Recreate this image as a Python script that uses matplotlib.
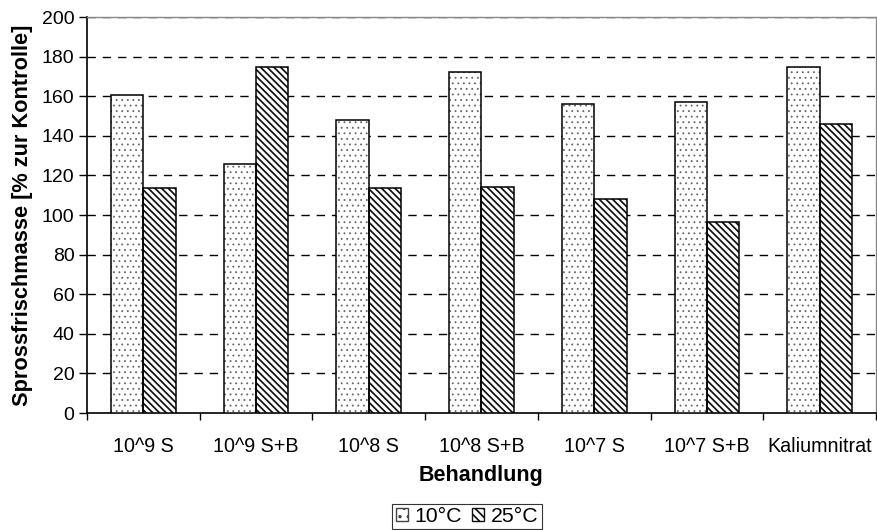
import matplotlib
matplotlib.use("Agg")
import matplotlib.pyplot as plt
import numpy as np

plt.rcParams['font.family'] = ['Liberation Sans', 'DejaVu Sans']

categories = ["10^9 S", "10^9 S+B", "10^8 S", "10^8 S+B", "10^7 S", "10^7 S+B", "Kaliumnitrat"]
series_names = ["10°C", "25°C"]
values_10 = [160.5, 125.6, 147.8, 172.2, 156.0, 157.2, 175.0]
values_25 = [113.6, 174.6, 113.6, 114.0, 108.0, 96.7, 145.8]
yticks = [0, 20, 40, 60, 80, 100, 120, 140, 160, 180, 200]

fig = plt.figure(figsize=(8.78, 5.30), dpi=100)
ax = fig.add_axes([87/878, 117/530, 789/878, 396/530])

x = np.arange(len(categories))
w = 0.287

# 10°C: sparse grey dots
plt.rcParams['hatch.linewidth'] = 0.6
ax.bar(x - w/2, values_10, w, facecolor='white', edgecolor='#666666', hatch='...', linewidth=0, zorder=3)
b1 = ax.bar(x - w/2, values_10, w, facecolor='none', edgecolor='black', linewidth=1.1, zorder=4, label=series_names[0])

# 25°C: dense diagonal stripes
plt.rcParams['hatch.linewidth'] = 1.25
ax.bar(x + w/2, values_25, w, facecolor='white', edgecolor='#111111', hatch='\\\\\\\\\\', linewidth=0, zorder=3)
b2 = ax.bar(x + w/2, values_25, w, facecolor='none', edgecolor='black', linewidth=1.1, zorder=4, label=series_names[1])

ax.set_xlim(-0.5, len(categories) - 0.5)
ax.set_ylim(0, 200)
ax.set_yticks(yticks)
ax.set_yticklabels([str(t) for t in yticks], fontsize=14)
ax.set_xticks(x)
ax.set_xticklabels(categories, fontsize=14.2)
ax.tick_params(axis='x', which='major', length=0, pad=17)
ax.set_xticks(np.arange(len(categories) + 1) - 0.5, minor=True)
ax.tick_params(axis='x', which='minor', length=5, width=1, direction='out')
ax.tick_params(axis='y', length=6, width=1, direction='out', pad=3)

for t in yticks[1:]:
    ax.axhline(t, color='black', linestyle=(0, (6, 5)), linewidth=1.0, zorder=1)

ax.spines['left'].set_linewidth(1.2)
ax.spines['bottom'].set_linewidth(1.2)
ax.spines['top'].set_color('#888888')
ax.spines['right'].set_color('#888888')
ax.spines['top'].set_linewidth(1.0)
ax.spines['right'].set_linewidth(1.0)

ax.set_ylabel("Sprossfrischmasse [% zur Kontrolle]", fontsize=15.7, fontweight='bold', labelpad=6)
ax.set_xlabel("Behandlung", fontsize=15.5, fontweight='bold', labelpad=7)

# legend handles combine hatch and border
h1 = matplotlib.patches.Rectangle((0, 0), 1, 1, facecolor='white', edgecolor='#444444', hatch='..', linewidth=1.0)
h2 = matplotlib.patches.Rectangle((0, 0), 1, 1, facecolor='white', edgecolor='#111111', hatch='\\\\\\\\', linewidth=1.0)
leg = fig.legend(handles=[h1, h2], labels=series_names, loc='lower center',
                 bbox_to_anchor=(467/878, 1/530), ncol=2, fontsize=15.3,
                 frameon=True, fancybox=False, edgecolor='black',
                 handlelength=0.6, handleheight=0.6, handletextpad=0.3,
                 columnspacing=0.45, borderpad=0.15, borderaxespad=0)
leg.get_frame().set_linewidth(0.8)

fig.savefig("out.png", dpi=100)
